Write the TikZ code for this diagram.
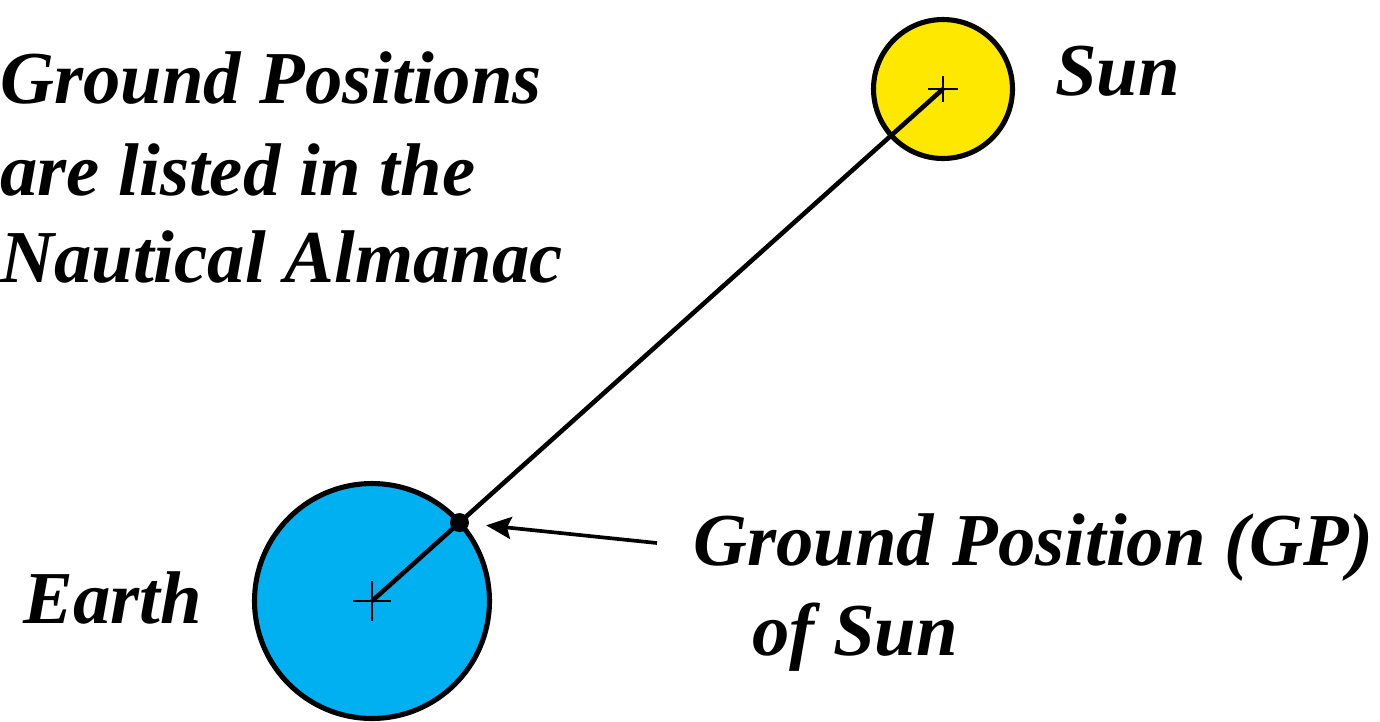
\documentclass[tikz,border=0pt]{standalone}
\usepackage{fontspec}
\setmainfont{Liberation Serif}
\usepackage{tikz}
\usetikzlibrary{calc,arrows.meta}
\definecolor{earthblue}{RGB}{0,176,240}
\definecolor{sunyellow}{RGB}{255,232,0}
\newcommand{\labelfont}{\fontsize{42.5}{50.5}\selectfont\bfseries\itshape}

\begin{document}
\begin{tikzpicture}[x=0.02cm, y=-0.02cm, >={Stealth[length=0.5cm, width=0.44cm, inset=0.08cm]},
  body/.style={circle, draw=black, line width=2.9pt, inner sep=0pt},
  lbl/.style={font=\labelfont, inner sep=0pt, anchor=base west},
  crosshair/.style={line width=1.2pt}]
  \useasboundingbox (0,0) rectangle (1380,721);
  \clip (0,0) rectangle (1380,721);

  % Earth and Sun
  \node[body, fill=earthblue, minimum size=4.7cm] (earth) at (372,601) {};
  \node[body, fill=sunyellow, minimum size=2.78cm] (sun) at (943,89) {};

  % Line of sight and its ground position
  \draw[line width=2.6pt] (earth.center) -- (sun.center);
  \coordinate (gp) at ($(earth.center)!2.35cm!(sun.center)$);
  \node[circle, fill=black, inner sep=0pt, minimum size=0.38cm] (gpdot) at (gp) {};

  % Centre marks
  \draw[crosshair] (earth.center) +(-19,0) -- +(19,0)
                   (earth.center) +(0,-20) -- +(0,20);
  \draw[crosshair] (sun.center) +(-15,0) -- +(15,0)
                   (sun.center) +(0,-13) -- +(0,13);

  % Pointer to GP
  \coordinate (gptail) at (657,543);
  \draw[->, line width=2.1pt, shorten >=0.34cm] (gptail) -- (gpdot);

  % Labels
  \node[lbl] (sunlbl) at (1055,95) {Sun};
  \node[lbl] (earthlbl) at (23,623) {Earth};
  \node[lbl] (gplbl) at (693,565) {Ground Position (GP)};
  \node[lbl] (gplbl2) at (752,655) {of Sun};
  \node[lbl] (almanac1) at (0,103) {Ground Positions};
  \node[lbl] (almanac2) at (0,195) {are listed in the};
  \node[lbl] (almanac3) at (0,282) {Nautical Almanac};
\end{tikzpicture}
\end{document}
